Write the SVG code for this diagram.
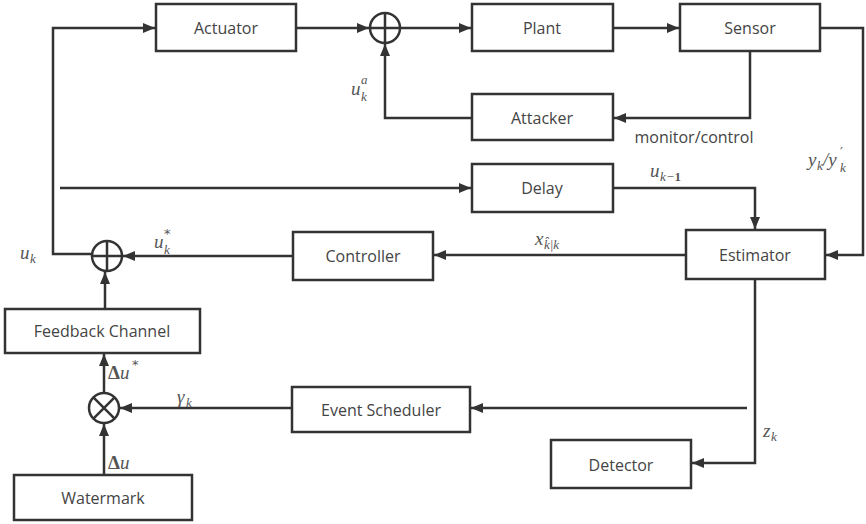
<svg xmlns="http://www.w3.org/2000/svg" width="866" height="524" viewBox="0 0 866 524">
<style>
.box{fill:#fff;stroke:#333;stroke-width:2.5}
.t{font-family:"Open Sans","Noto Sans","Liberation Sans",sans-serif;font-size:16px;fill:#444;text-anchor:middle;dominant-baseline:central}
.ln{fill:none;stroke:#333;stroke-width:2.5}
.m{font-family:"Liberation Serif","DejaVu Serif",serif;font-style:italic;font-size:19px;fill:#555}
.s{font-family:"Liberation Serif","DejaVu Serif",serif;font-style:italic;font-size:13px;fill:#555}
.p{font-family:"DejaVu Sans",sans-serif;font-size:13px;fill:#555}
.b{font-weight:bold;font-style:normal}
</style>
<defs>
<marker id="ar" viewBox="0 0 12 10" refX="12" refY="5" markerWidth="12" markerHeight="10" markerUnits="userSpaceOnUse" orient="auto">
<path d="M0,0 L12,5 L0,10 Z" fill="#333"/>
</marker>
</defs>
<rect width="866" height="524" fill="#fff"/>
<g id="connectors">
<polyline class="ln" points="92,254 53,254 53,28 155,28" marker-end="url(#ar)"/>
<line class="ln" x1="296" y1="28" x2="369" y2="28" marker-end="url(#ar)"/>
<line class="ln" x1="400" y1="28" x2="471" y2="28" marker-end="url(#ar)"/>
<line class="ln" x1="613" y1="28" x2="679" y2="28" marker-end="url(#ar)"/>
<polyline class="ln" points="820,28 863,28 863,255 826,255" marker-end="url(#ar)"/>
<polyline class="ln" points="750,52 750,118 614,118" marker-end="url(#ar)"/>
<polyline class="ln" points="472,118 385,118 385,44" marker-end="url(#ar)"/>
<line class="ln" x1="60" y1="188" x2="471" y2="188" marker-end="url(#ar)"/>
<polyline class="ln" points="613,188 755,188 755,229" marker-end="url(#ar)"/>
<line class="ln" x1="686" y1="255" x2="434" y2="255" marker-end="url(#ar)"/>
<line class="ln" x1="293" y1="256" x2="123" y2="256" marker-end="url(#ar)"/>
<line class="ln" x1="105" y1="309" x2="105" y2="272" marker-end="url(#ar)"/>
<line class="ln" x1="104" y1="475" x2="104" y2="424" marker-end="url(#ar)"/>
<line class="ln" x1="104" y1="393" x2="104" y2="354" marker-end="url(#ar)"/>
<line class="ln" x1="292" y1="408" x2="120" y2="408" marker-end="url(#ar)"/>
<line class="ln" x1="747" y1="408" x2="471" y2="408" marker-end="url(#ar)"/>
<polyline class="ln" points="755,279 755,463 692,463" marker-end="url(#ar)"/>
</g>
<g id="sum1"><circle class="ln" cx="385" cy="28" r="15"/><path class="ln" d="M370,28 H400 M385,13 V43"/></g>
<g id="sum2"><circle class="ln" cx="107" cy="256" r="15"/><path class="ln" d="M92,256 H122 M107,241 V271"/></g>
<g id="mult"><circle class="ln" cx="104" cy="408" r="15"/><path class="ln" d="M93.4,397.4 L114.6,418.6 M114.6,397.4 L93.4,418.6"/></g>
<g id="actuator"><rect class="box" x="156" y="4" width="140" height="47"/><text class="t" x="226" y="28">Actuator</text></g>
<g id="plant"><rect class="box" x="472" y="4" width="141" height="47"/><text class="t" x="542" y="28">Plant</text></g>
<g id="sensor"><rect class="box" x="680" y="4" width="140" height="47"/><text class="t" x="750" y="28">Sensor</text></g>
<g id="attacker"><rect class="box" x="472" y="94" width="141" height="46"/><text class="t" x="542" y="118">Attacker</text></g>
<g id="delay"><rect class="box" x="472" y="164" width="141" height="48"/><text class="t" x="542" y="188">Delay</text></g>
<g id="estimator"><rect class="box" x="686" y="230" width="139" height="49"/><text class="t" x="755" y="255">Estimator</text></g>
<g id="controller"><rect class="box" x="293" y="232" width="140" height="48"/><text class="t" x="363" y="256">Controller</text></g>
<g id="feedback"><rect class="box" x="5" y="309" width="195" height="44"/><text class="t" x="102" y="331">Feedback Channel</text></g>
<g id="scheduler"><rect class="box" x="292" y="387" width="178" height="45"/><text class="t" x="381" y="410">Event Scheduler</text></g>
<g id="watermark"><rect class="box" x="14" y="475" width="178" height="45"/><text class="t" x="103" y="498">Watermark</text></g>
<g id="detector"><rect class="box" x="551" y="440" width="140" height="48"/><text class="t" x="621" y="465">Detector</text></g>
<g id="labels">
<text class="t" x="694" y="137">monitor/control</text>
<text class="m" x="351" y="95">u</text><text class="s" x="361" y="84">a</text><text class="s" x="361" y="101">k</text>
<text class="m" x="20" y="259">u</text><text class="s" x="30" y="263">k</text>
<text class="m" x="154" y="248">u</text><text class="p" x="164" y="238">*</text><text class="s" x="164" y="254">k</text>
<text class="m" x="535" y="245">x</text><text class="s" x="544" y="249">k̂|k</text>
<text class="m" x="650" y="177">u</text><text class="s" x="660" y="181">k−<tspan class="b">1</tspan></text>
<text class="m" x="808" y="166">y</text><text class="s" x="817" y="170">k</text><text class="m" x="823" y="166">/y</text><text class="p" x="840" y="156">′</text><text class="s" x="840" y="172">k</text>
<text class="m" x="108" y="379"><tspan class="b">Δ</tspan>u</text><text class="p" x="132" y="369">*</text>
<text class="m" x="177" y="403">γ</text><text class="s" x="186" y="407">k</text>
<text class="m" x="108" y="469"><tspan class="b">Δ</tspan>u</text>
<text class="m" x="763" y="437">z</text><text class="s" x="771" y="441">k</text>
</g>
</svg>
